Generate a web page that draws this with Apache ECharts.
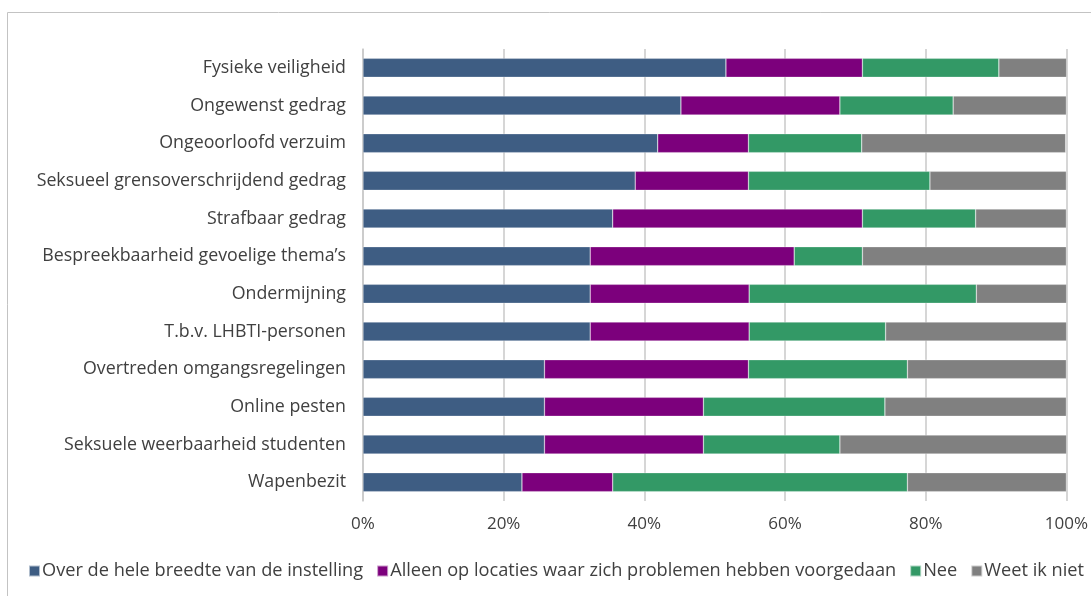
<!DOCTYPE html>
<html lang="nl">
<head>
    <meta charset="UTF-8">
    <title>Beleid per thema</title>
    <script src="https://cdn.jsdelivr.net/npm/echarts@6/dist/echarts.min.js"></script>
    <style>
        html, body { margin: 0; padding: 0; background: #fff; }
        #chart { width: 1091px; height: 596px; }
    </style>
</head>
<body>
<div id="chart"></div>
<script>
    var themas = ['Fysieke veiligheid', 'Ongewenst gedrag', 'Ongeoorloofd verzuim',
        'Seksueel grensoverschrijdend gedrag', 'Strafbaar gedrag', 'Bespreekbaarheid gevoelige thema\u2019s',
        'Ondermijning', 'T.b.v. LHBTI-personen', 'Overtreden omgangsregelingen', 'Online pesten',
        'Seksuele weerbaarheid studenten', 'Wapenbezit'];
    var seriesNames = ['Over de hele breedte van de instelling',
        'Alleen op locaties waar zich problemen hebben voorgedaan', 'Nee', 'Weet ik niet'];
    var breedte  = [51.6, 45.2, 41.9, 38.7, 35.5, 32.3, 32.3, 32.3, 25.8, 25.8, 25.8, 22.6];
    var locaties = [19.4, 22.6, 12.9, 16.1, 35.5, 29.0, 22.6, 22.6, 29.0, 22.6, 22.6, 12.9];
    var nee      = [19.4, 16.1, 16.1, 25.8, 16.1,  9.7, 32.3, 19.4, 22.6, 25.8, 19.4, 41.9];
    var weetNiet = [ 9.7, 16.1, 29.0, 19.4, 12.9, 29.0, 12.9, 25.8, 22.6, 25.8, 32.3, 22.6];
    var xTicks = [0, 20, 40, 60, 80, 100];

    var colors = ['#3E5D83', '#7C007C', '#339966', '#808080'];
    var font = 'Open Sans';

    var chart = echarts.init(document.getElementById('chart'));
    var allData = [breedte, locaties, nee, weetNiet];
    var series = [];
    for (var i = 0; i < allData.length; i++) {
        series.push({
            name: seriesNames[i],
            type: 'bar',
            stack: 'totaal',
            barWidth: 19,
            data: allData[i],
            itemStyle: { color: colors[i], borderColor: 'rgba(255,255,255,0.6)', borderWidth: 0.5 }
        });
    }

    var option = {
        animation: false,
        color: colors,
        textStyle: { fontFamily: font },
        graphic: [{
            type: 'rect',
            shape: { x: 7.5, y: 12.5, width: 1200, height: 700 },
            style: { fill: 'none', stroke: '#c3c3c3', lineWidth: 1 }
        }],
        grid: { left: 363, right: 23, top: 49, bottom: 95 },
        legend: {
            data: seriesNames,
            bottom: 16,
            left: 28,
            width: 1100,
            padding: 0,
            itemWidth: 11,
            itemHeight: 11,
            itemGap: 13,
            icon: 'rect',
            textStyle: { fontFamily: font, fontSize: 18.2, color: '#404040', padding: [0, 0, 0, -3] }
        },
        xAxis: {
            type: 'value',
            min: xTicks[0],
            max: xTicks[xTicks.length - 1],
            interval: 20,
            axisLine: { show: false },
            axisTick: { show: false },
            splitLine: { lineStyle: { color: '#c8c8c8', width: 1.5 } },
            axisLabel: { formatter: '{value}%', color: '#404040', fontSize: 17, margin: 15, fontFamily: font }
        },
        yAxis: {
            type: 'category',
            inverse: true,
            data: themas,
            axisLine: { show: true, lineStyle: { color: '#c8c8c8', width: 1.5 } },
            axisTick: { show: false },
            axisLabel: { color: '#404040', fontSize: 17.8, margin: 17, fontFamily: font }
        },
        series: series
    };
    chart.setOption(option);
</script>
</body>
</html>
